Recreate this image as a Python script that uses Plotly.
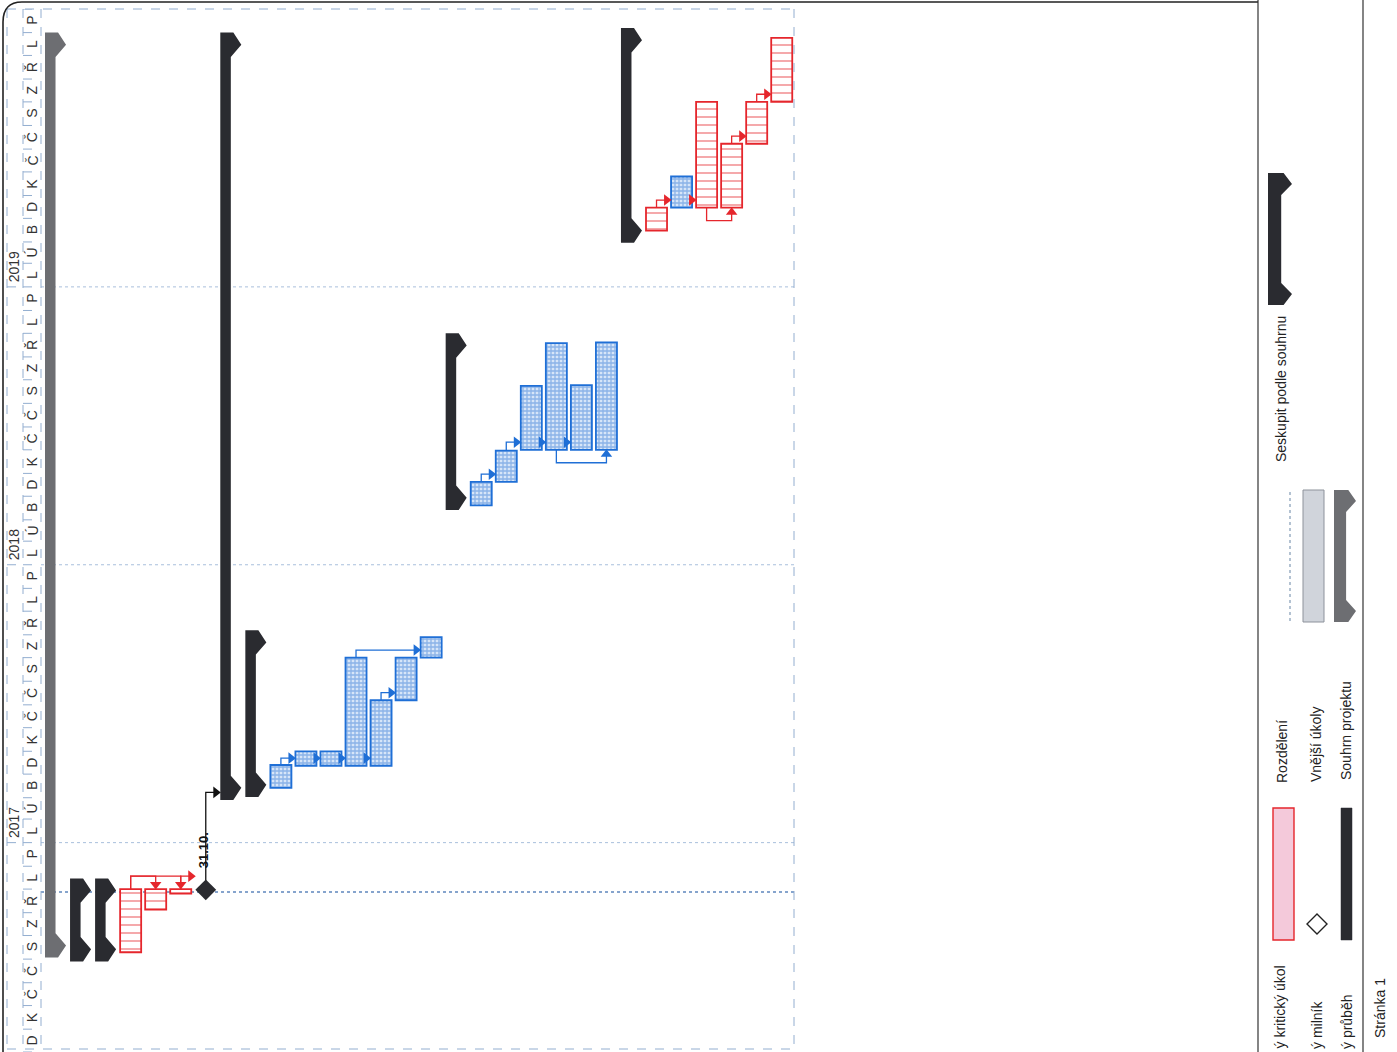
import plotly.graph_objects as go
import pandas as pd

# ---------------- data ----------------
task_kind = ["project", "summary", "summary", "critical", "critical", "critical", "milestone",
             "summary", "summary", "task", "task", "task", "task", "task", "task", "task",
             "summary", "task", "task", "task", "task", "task", "task",
             "summary", "critical", "task", "critical", "critical", "critical", "critical"]
task_start = ["2016-08-03", "2016-07-29", "2016-07-29", "2016-08-10", "2016-10-05", "2016-10-26", "2016-10-31",
              "2017-02-26", "2017-03-02", "2017-03-14", "2017-04-12", "2017-04-12", "2017-04-12", "2017-04-12",
              "2017-07-07", "2017-09-01",
              "2018-03-14", "2018-03-20", "2018-04-20", "2018-06-01", "2018-06-01", "2018-06-01", "2018-06-01",
              "2019-02-28", "2019-03-16", "2019-04-15", "2019-04-15", "2019-04-15", "2019-07-08", "2019-09-01"]
task_finish = ["2019-12-01", "2016-11-15", "2016-11-15", "2016-11-01", "2016-11-01", "2016-11-01", "2016-10-31",
               "2019-12-01", "2017-10-07", "2017-04-13", "2017-05-01", "2017-05-01", "2017-09-01", "2017-07-07",
               "2017-09-01", "2017-09-28",
               "2018-11-01", "2018-04-20", "2018-05-31", "2018-08-24", "2018-10-19", "2018-08-25", "2018-10-20",
               "2019-12-07", "2019-04-15", "2019-05-26", "2019-09-01", "2019-07-08", "2019-09-01", "2019-11-24"]

link_pred = [3, 3, 5, 6, 9, 10, 11, 12, 13, 12, 17, 18, 19, 20, 20, 24, 25, 26, 27, 28]
link_succ = [4, 5, 6, 7, 10, 11, 12, 13, 14, 15, 18, 19, 20, 21, 22, 25, 26, 27, 28, 29]
link_type = ["FF", "FF", "FS", "FS", "FS", "FS", "FS", "FS", "FS", "FS",
             "FS", "FS", "FS", "FS", "SS", "FS", "FS", "SS", "FS", "FS"]
link_group = ["crit", "crit", "crit", "plain", "norm", "norm", "norm", "norm", "norm", "norm",
              "norm", "norm", "norm", "norm", "norm", "crit", "crit", "crit", "crit", "crit"]

month_letters = ["L", "Ú", "B", "D", "K", "Č", "Č", "S", "Z", "Ř", "L", "P"]
year_labels = ["2017", "2018", "2019"]
axis_start = "2016-04-01"
axis_end = "2020-01-01"
status_date = "2016-10-28"
milestone_label = "31.10."

legend_texts = ["ý kritický úkol", "Rozdělení", "Seskupit podle souhrnu",
                "ý milník", "Vnější úkoly", "ý průběh", "Souhrn projektu", "Stránka 1"]

# ---------------- styling / geometry ----------------
RED = "#e5262c"
BLUE = "#1f6fd6"
DARK = "#2a2b30"
GRAY = "#6d6e72"
GRID = "#93aed0"
FONT = "Liberation Sans, Arial, sans-serif"

FIG_W, FIG_H = 1397, 1052
ML, MR, MT, MB = 41, 603, 9, 0
PW = FIG_W - ML - MR
PH = FIG_H - MT - MB
X_RANGE = [-0.58, 29.49]
PX_PER_ROW = PW / (X_RANGE[1] - X_RANGE[0])
T0 = pd.Timestamp(axis_start)
T1 = pd.Timestamp(axis_end)
PX_PER_DAY = PH / (T1 - T0).days
HW = 0.42            # half bar width in rows
CAP = pd.Timedelta(days=16)


def dd(px):
    return pd.Timedelta(days=px / PX_PER_DAY)


def rr(px):
    return px / PX_PER_ROW


def ds(ts):
    return pd.Timestamp(ts).strftime("%Y-%m-%d %H:%M:%S")


def fx(px):
    return (px - ML) / PW


def fy(py):
    return (FIG_H - MB - py) / PH


fig = go.Figure()

# ---------------- summary bars ----------------
for i, k in enumerate(task_kind):
    if k not in ("summary", "project"):
        continue
    s = pd.Timestamp(task_start[i])
    f = pd.Timestamp(task_finish[i])
    L, R = i - HW, i + HW
    B = L + 0.5 * 2 * HW
    F = L + 0.62 * 2 * HW
    xs = [L, F, R, B, B, R, F, L, L]
    ys = [f, f, f - CAP, f - 2 * CAP, s + 2 * CAP, s + CAP, s, s, f]
    fig.add_trace(go.Scatter(x=xs, y=[ds(v) for v in ys], mode="lines", fill="toself",
                             fillcolor=GRAY if k == "project" else DARK,
                             line=dict(width=0), hoverinfo="skip", showlegend=False))


# ---------------- task bars ----------------
def bar_trace(kind, line_color, pattern, fill):
    idx = [i for i, k in enumerate(task_kind) if k == kind]
    dur = [(pd.Timestamp(task_finish[i]) - pd.Timestamp(task_start[i])).total_seconds() * 1000 for i in idx]
    return go.Bar(x=idx, y=dur, base=[task_start[i] for i in idx], width=2 * HW,
                  marker=dict(color=fill, line=dict(color=line_color, width=1.8), pattern=pattern),
                  hoverinfo="skip", showlegend=False)


fig.add_trace(bar_trace("critical", RED,
                        dict(shape="-", fgcolor=RED, bgcolor="white", size=8, solidity=0.2), "white"))
fig.add_trace(bar_trace("task", BLUE,
                        dict(shape="+", fgcolor="#3f80d8", bgcolor="#d6e5f8", size=4, solidity=0.55), "#d6e5f8"))

# ---------------- links ----------------
link_colors = {"crit": RED, "norm": BLUE, "plain": "#111111"}
paths = {g: ([], []) for g in link_colors}
heads = {}
AR_ROW = rr(4.5)
AR_DAY = dd(4.5)
for p, s_, t, g in zip(link_pred, link_succ, link_type, link_group):
    px_, sx = p, s_
    ps, pf = pd.Timestamp(task_start[p]), pd.Timestamp(task_finish[p])
    ss, sf = pd.Timestamp(task_start[s_]), pd.Timestamp(task_finish[s_])
    if t == "FS":
        if task_kind[s_] == "milestone":
            level = pf + pd.Timedelta(days=17)
        else:
            level = ss + pd.Timedelta(days=10)
        end = (sx - HW - AR_ROW, level)
        if pf < level:
            pts = [(px_, pf), (px_, level), end]
        else:
            pts = [(px_ + HW, level), end]
        sym = "triangle-right"
    elif t == "SS":
        level = ps - pd.Timedelta(days=17)
        end = (sx, ss - AR_DAY)
        pts = [(px_, ps), (px_, level), (sx, level), end]
        sym = "triangle-up"
    else:  # FF
        level = pf + pd.Timedelta(days=17)
        end = (sx, sf + AR_DAY)
        pts = [(px_, pf), (px_, level), (sx, level), end]
        sym = "triangle-down"
    xs, ys = paths[g]
    xs.extend([q[0] for q in pts] + [None])
    ys.extend([ds(q[1]) for q in pts] + [None])
    heads.setdefault((g, sym), ([], []))
    heads[(g, sym)][0].append(end[0])
    heads[(g, sym)][1].append(ds(end[1]))

for g, (xs, ys) in paths.items():
    if xs:
        fig.add_trace(go.Scatter(x=xs, y=ys, mode="lines", line=dict(color=link_colors[g], width=1.3),
                                 hoverinfo="skip", showlegend=False))
for (g, sym), (xs, ys) in heads.items():
    fig.add_trace(go.Scatter(x=xs, y=ys, mode="markers",
                             marker=dict(symbol=sym, size=10, color=link_colors[g], line=dict(width=0)),
                             hoverinfo="skip", showlegend=False))

# ---------------- milestone ----------------
mi = [i for i, k in enumerate(task_kind) if k == "milestone"]
fig.add_trace(go.Scatter(x=mi, y=[task_start[i] for i in mi], mode="markers",
                         marker=dict(symbol="diamond", size=16, color=DARK, line=dict(width=0)),
                         hoverinfo="skip", showlegend=False))

annotations = []
shapes = []
for i in mi:
    annotations.append(dict(x=i - 0.1, y=ds(pd.Timestamp(task_start[i]) + pd.Timedelta(days=26)),
                            xref="x", yref="y", text="<b>" + milestone_label + "</b>", showarrow=False,
                            textangle=-90, xanchor="center", yanchor="bottom",
                            font=dict(family=FONT, size=13, color="#111")))

# ---------------- time scale header ----------------
months = pd.date_range(T0, T1, freq="MS")
for m in months[:-1]:
    mid = m + pd.Timedelta(days=m.days_in_month / 2)
    annotations.append(dict(x=fx(32), y=ds(mid), xref="paper", yref="y",
                            text=month_letters[m.month - 1], showarrow=False, textangle=-90,
                            xanchor="center", yanchor="middle",
                            font=dict(family=FONT, size=14, color="#333")))
for m in months:
    shapes.append(dict(type="line", xref="paper", yref="y", x0=fx(23), x1=fx(41), y0=ds(m), y1=ds(m),
                       line=dict(color=GRID, width=1, dash="dash")))
for y in year_labels:
    yd = pd.Timestamp(y + "-01-01")
    annotations.append(dict(x=fx(14), y=ds(yd + pd.Timedelta(days=4)), xref="paper", yref="y",
                            text=y, showarrow=False, textangle=-90, xanchor="center", yanchor="bottom",
                            font=dict(family=FONT, size=14, color="#333")))
    shapes.append(dict(type="line", xref="paper", yref="y", x0=fx(7), x1=fx(23), y0=ds(yd), y1=ds(yd),
                       line=dict(color=GRID, width=1, dash="dash")))
    shapes.append(dict(type="line", xref="paper", yref="y", x0=fx(41), x1=fx(794), y0=ds(yd), y1=ds(yd),
                       layer="below", line=dict(color="#a9bfdc", width=1, dash="dot")))
shapes.append(dict(type="line", xref="paper", yref="y", x0=fx(41), x1=fx(797),
                   y0=ds(status_date), y1=ds(status_date), layer="below",
                   line=dict(color="#5f86bd", width=1.5, dash="dot")))
for xp in (7, 23, 41, 794):
    shapes.append(dict(type="line", xref="paper", yref="paper", x0=fx(xp), x1=fx(xp), y0=fy(9), y1=fy(1052),
                       line=dict(color=GRID, width=1, dash="dash")))
for yp in (9, 1049):
    shapes.append(dict(type="line", xref="paper", yref="paper", x0=fx(7), x1=fx(794), y0=fy(yp), y1=fy(yp),
                       line=dict(color=GRID, width=1, dash="dash")))

# page frame
shapes.append(dict(type="path", xref="paper", yref="paper",
                   path=f"M{fx(3)},{fy(1052)} L{fx(3)},{fy(22)} Q{fx(3)},{fy(2)} {fx(22)},{fy(2)} L{fx(1258)},{fy(2)}",
                   line=dict(color="#222", width=1.6)))
for xp in (1258, 1363):
    shapes.append(dict(type="line", xref="paper", yref="paper", x0=fx(xp), x1=fx(xp), y0=fy(0), y1=fy(1052),
                       line=dict(color="#333", width=1.2)))


# ---------------- legend (rotated page) ----------------
def rect(x0, y0, x1, y1, fill, line, lw=1):
    shapes.append(dict(type="rect", xref="paper", yref="paper", x0=fx(x0), x1=fx(x1), y0=fy(y1), y1=fy(y0),
                       fillcolor=fill, line=dict(color=line, width=lw)))


def summary_path(L, R, top, bot, color):
    W = R - L
    B = L + 0.55 * W
    F = L + 0.65 * W
    a = 11
    pts = [(L, top), (F, top), (R, top + a), (B, top + 2 * a), (B, bot - 2 * a), (R, bot - a), (F, bot), (L, bot)]
    p = "M" + " L".join(f"{fx(x)},{fy(y)}" for x, y in pts) + " Z"
    shapes.append(dict(type="path", xref="paper", yref="paper", path=p, fillcolor=color, line=dict(width=0)))


rect(1273, 808, 1294, 940, "#f4c9da", RED, 1.4)
shapes.append(dict(type="line", xref="paper", yref="paper", x0=fx(1290), x1=fx(1290), y0=fy(492), y1=fy(622),
                   line=dict(color="#9aaec4", width=1.5, dash="dot")))
summary_path(1268, 1292, 173, 305, DARK)
dp = f"M{fx(1317)},{fy(914)} L{fx(1327)},{fy(924)} L{fx(1317)},{fy(934)} L{fx(1307)},{fy(924)} Z"
shapes.append(dict(type="path", xref="paper", yref="paper", path=dp, fillcolor="white",
                   line=dict(color="#222", width=1.4)))
rect(1303, 490, 1324, 622, "#d0d4db", "#8d929b", 1)
rect(1341, 808, 1352, 940, DARK, DARK, 0.5)
summary_path(1334, 1356, 490, 622, GRAY)

legend_pos = [(1279, 1051, "bottom"), (1282, 752, "middle"), (1281, 389, "middle"),
              (1317, 1051, "bottom"), (1316, 745, "middle"), (1347, 1051, "bottom"),
              (1346, 731, "middle"), (1380, 1008, "middle")]
for txt, (xp, yp, anc) in zip(legend_texts, legend_pos):
    annotations.append(dict(x=fx(xp), y=fy(yp), xref="paper", yref="paper", text=txt, showarrow=False,
                            textangle=-90, xanchor="center", yanchor=anc,
                            font=dict(family=FONT, size=14, color="#222")))

fig.update_layout(
    width=FIG_W, height=FIG_H,
    margin=dict(l=ML, r=MR, t=MT, b=MB, pad=0),
    paper_bgcolor="white", plot_bgcolor="white",
    barmode="overlay", showlegend=False,
    xaxis=dict(range=X_RANGE, visible=False, fixedrange=True),
    yaxis=dict(type="date", range=[axis_start, axis_end], visible=False, fixedrange=True),
    shapes=shapes, annotations=annotations,
)
fig.write_html("out.html", config={"displayModeBar": False},
               post_script="document.body.style.margin='0';document.body.style.overflow='hidden';")
